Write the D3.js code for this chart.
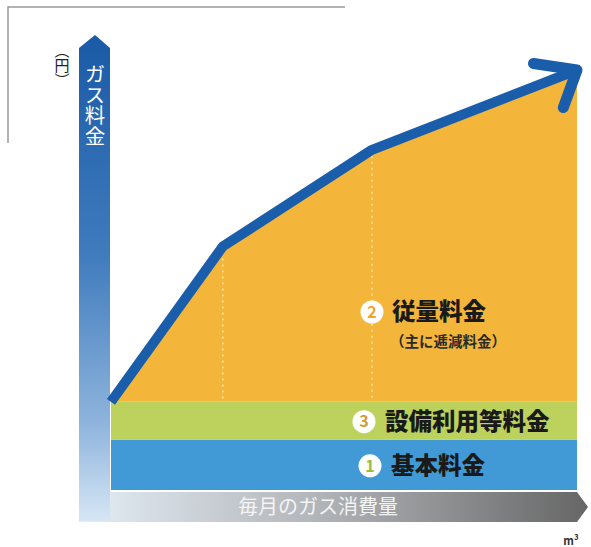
<!DOCTYPE html>
<html>
<head>
<meta charset="utf-8">
<script src="https://cdn.jsdelivr.net/npm/d3@7"></script>
<style>
  body { margin: 0; background: #fff; }
  svg { display: block; }
</style>
</head>
<body>
<div id="chart"></div>
<script>
// data
const usage = [0, 24, 56, 100]        // 毎月のガス消費量 (relative)
const cost = [21, 58, 81, 100]        // ガス料金 (relative)
const basicCharge = 12                // ① 基本料金
const facilityCharge = 9              // ③ 設備利用等料金
const bandNames = ["基本料金", "設備利用等料金", "従量料金"]
const bandNumbers = ["1", "3", "2"]
const subNote = "（主に逓減料金）"
const yTitle = "ガス料金"
const yUnit = "（円）"
const xTitle = "毎月のガス消費量"
const xUnit = "m³"

const w = 591, h = 547
const svg = d3.select("#chart").append("svg")
    .attr("width", w)
    .attr("height", h)
    .style("font-family", "'Noto Sans CJK JP', 'Noto Sans', sans-serif")

const x = d3.scaleLinear().domain([0, 100]).range([111, 577])
const y = d3.scaleLinear().domain([0, 100]).range([490, 70])

const defs = svg.append("defs")
const gy = defs.append("linearGradient").attr("id", "gy")
    .attr("x1", 0).attr("y1", 0).attr("x2", 0).attr("y2", 1)
gy.append("stop").attr("offset", "0%").attr("stop-color", "#1a5aa6")
gy.append("stop").attr("offset", "45%").attr("stop-color", "#3f7bbd")
gy.append("stop").attr("offset", "80%").attr("stop-color", "#8fb4dc")
gy.append("stop").attr("offset", "100%").attr("stop-color", "#d6e6f5")
const gx = defs.append("linearGradient").attr("id", "gx")
gx.append("stop").attr("offset", "0%").attr("stop-color", "#e4edf6")
gx.append("stop").attr("offset", "45%").attr("stop-color", "#b4b7bb")
gx.append("stop").attr("offset", "100%").attr("stop-color", "#666666")

// gray frame top-left
svg.append("path")
    .attr("d", "M8,143 V7 H345")
    .attr("fill", "none")
    .attr("stroke", "#9a9a9a")
    .attr("stroke-width", 1.5)

// bands
const base = basicCharge + facilityCharge
svg.append("rect")
    .attr("x", x(0)).attr("width", x(100) - x(0))
    .attr("y", y(basicCharge)).attr("height", y(0) - y(basicCharge))
    .attr("fill", "#419ad6")
svg.append("rect")
    .attr("x", x(0)).attr("width", x(100) - x(0))
    .attr("y", y(base)).attr("height", y(basicCharge) - y(base))
    .attr("fill", "#bcd25c")

const pts = usage.map((u, i) => [u, cost[i]])
const area = d3.area()
    .x(d => x(d[0]))
    .y0(y(base))
    .y1(d => y(d[1]))
svg.append("path")
    .attr("d", area(pts))
    .attr("fill", "#f3b63a")

// dotted guides at the break points
svg.selectAll("line.guide")
    .data(pts.slice(1, -1))
    .enter().append("line")
    .attr("class", "guide")
    .attr("x1", d => x(d[0])).attr("x2", d => x(d[0]))
    .attr("y1", d => y(d[1]) + 6).attr("y2", y(base))
    .attr("stroke", "#fbe3a8")
    .attr("stroke-width", 1.5)
    .attr("stroke-dasharray", "2,4")

// x axis arrow bar
svg.append("path")
    .attr("d", `M79,492 H${x(100)} L588,507 L${x(100)},522 H79 Z`)
    .attr("fill", "url(#gx)")
svg.append("text")
    .attr("x", 318).attr("y", 514)
    .attr("text-anchor", "middle")
    .attr("font-size", 20)
    .attr("fill", "#f4f4f4")
    .text(xTitle)
svg.append("text")
    .attr("x", 571).attr("y", 545)
    .attr("text-anchor", "middle")
    .attr("font-size", 11)
    .attr("font-weight", "bold")
    .attr("fill", "#333")
    .text(xUnit)

// y axis arrow bar
svg.append("path")
    .attr("d", "M79,521 V48 L95,35 L110,48 V521 Z")
    .attr("fill", "url(#gy)")
svg.append("text")
    .attr("x", 95).attr("y", 64)
    .attr("writing-mode", "vertical-rl")
    .attr("font-size", 20.5)
    .attr("fill", "#ffffff")
    .text(yTitle)
svg.append("text")
    .attr("x", 62).attr("y", 43)
    .attr("writing-mode", "vertical-rl")
    .attr("font-size", 15)
    .attr("fill", "#222")
    .text(yUnit)

// cost line
const line = d3.line().x(d => x(d[0])).y(d => y(d[1]))
svg.append("path")
    .attr("d", line(pts))
    .attr("fill", "none")
    .attr("stroke", "#1a5eab")
    .attr("stroke-width", 10)
    .attr("stroke-linejoin", "round")

// arrow head at the end of the line
const last = pts[pts.length - 1], prev = pts[pts.length - 2]
const tx = x(last[0]), ty = y(last[1])
const back = Math.atan2(y(prev[1]) - ty, x(prev[0]) - tx)
const a1 = back + 0.52, a2 = back - 0.85
svg.append("path")
    .attr("d", `M${tx + 44 * Math.cos(a1)},${ty + 44 * Math.sin(a1)} L${tx},${ty} L${tx + 40 * Math.cos(a2)},${ty + 40 * Math.sin(a2)}`)
    .attr("fill", "none")
    .attr("stroke", "#1a5eab")
    .attr("stroke-width", 11)
    .attr("stroke-linecap", "round")
    .attr("stroke-linejoin", "round")

// band labels
const labelY = [y(basicCharge / 2) + 1, y(basicCharge + facilityCharge / 2) + 1, 312]
const circleX = [370, 364, 372]
const numColor = ["#9bbb3c", "#d29a36", "#f0a52a"]
const labels = svg.selectAll("g.lab")
    .data(bandNames)
    .enter().append("g")
    .attr("class", "lab")
labels.append("circle")
    .attr("cx", (d, i) => circleX[i])
    .attr("cy", (d, i) => labelY[i])
    .attr("r", 11.5)
    .attr("fill", "#fff")
labels.append("text")
    .attr("x", (d, i) => circleX[i])
    .attr("y", (d, i) => labelY[i])
    .attr("dy", "0.36em")
    .attr("text-anchor", "middle")
    .attr("font-size", 16)
    .attr("font-weight", "bold")
    .attr("fill", (d, i) => numColor[i])
    .text((d, i) => bandNumbers[i])
labels.append("text")
    .attr("x", (d, i) => circleX[i] + (i == 2 ? 20 : 21))
    .attr("y", (d, i) => labelY[i])
    .attr("dy", "0.36em")
    .attr("font-size", 23.5)
    .attr("font-weight", 900)
    .attr("fill", "#1a1a1a")
    .text(d => d)
svg.append("text")
    .attr("x", 390).attr("y", 342)
    .attr("dy", "0.36em")
    .attr("font-size", 14.5)
    .attr("font-weight", "bold")
    .attr("fill", "#2a2a2a")
    .text(subNote)
</script>
</body>
</html>
